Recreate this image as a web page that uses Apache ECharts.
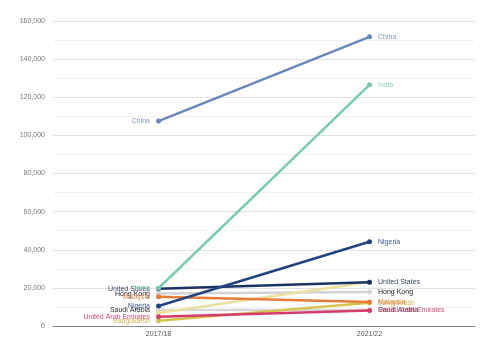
<!DOCTYPE html>
<html><head><meta charset="utf-8">
<script src="https://cdn.jsdelivr.net/npm/echarts@6/dist/echarts.min.js"></script>
<style>html,body{margin:0;padding:0;background:#fff}#c{width:495px;height:341px}</style>
</head><body><div id="c"></div>
<script>
const categories = ['2017/18', '2021/22'];
const yTicks = [0, 20000, 40000, 60000, 80000, 100000, 120000, 140000, 160000];
const names = ['Saudi Arabia', 'Hong Kong', 'Pakistan', 'Bangladesh', 'United Arab Emirates', 'Malaysia', 'United States', 'Nigeria', 'India', 'China'];
const startValues = [8400, 17000, 6800, 2800, 4800, 15400, 19500, 10500, 19800, 107500];
const endValues = [8400, 17800, 23100, 12200, 8100, 12600, 23000, 44200, 126500, 151700];
const lineColors = ['#d9d9d9', '#d3d3d3', '#ebe09c', '#d6c24e', '#d43d6b', '#e57c3a', '#1b3264', '#22427f', '#7ccbb0', '#6b87b9'];
const labelColors = ['#333333', '#222222', null, '#d8b24c', '#d44f78', '#e08a4e', '#3a4766', '#3a5590', '#8fd0bb', '#7f93c0'];

const series = names.map((n, i) => ({
  name: n,
  type: 'line',
  data: [startValues[i], endValues[i]],
  symbol: 'circle',
  symbolSize: 5,
  lineStyle: { width: 2.5, color: lineColors[i] },
  itemStyle: { color: lineColors[i] },
  z: 2 + i,
  label: labelColors[i] ? {
    show: true,
    fontSize: 7,
    fontFamily: 'Liberation Sans',
    color: labelColors[i],
    formatter: p => n,
    position: 'right',
    distance: 6
  } : { show: false },
  emphasis: { disabled: true },
  animation: false
}));
series.forEach(s => {
  if (s.label.show) {
    s.data = [
      { value: s.data[0], label: { position: 'left' } },
      { value: s.data[1], label: { position: 'right' } }
    ];
  }
});

const chart = echarts.init(document.getElementById('c'));
chart.setOption({
  animation: false,
  grid: { left: 53, right: 20, top: 21, bottom: 15 },
  xAxis: {
    type: 'category',
    data: categories,
    boundaryGap: true,
    axisLine: { lineStyle: { color: '#888', width: 1 } },
    axisTick: { show: false },
    axisLabel: { fontSize: 7, color: '#555', fontFamily: 'Liberation Sans', margin: 5 }
  },
  yAxis: {
    type: 'value',
    min: yTicks[0],
    max: yTicks[yTicks.length - 1],
    interval: 20000,
    axisLine: { show: false },
    axisTick: { show: false },
    axisLabel: { fontSize: 7, color: '#777', fontFamily: 'Liberation Sans', margin: 8,
      formatter: v => v.toLocaleString('en-US') },
    splitLine: { lineStyle: { color: '#e2e2e2', width: 1 } },
    minorTick: { show: false, splitNumber: 2 },
    minorSplitLine: { show: true, lineStyle: { color: '#f2f2f2', width: 1 } }
  },
  series: series
});
</script>
</body></html>
